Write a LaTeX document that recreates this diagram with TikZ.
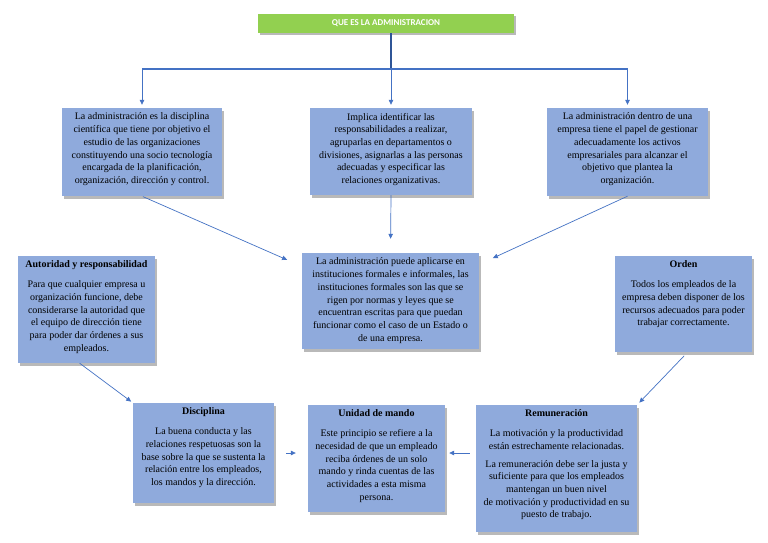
\documentclass[tikz,border=0pt]{standalone}
\usepackage{fontspec}
\setmainfont{Liberation Serif}
\newfontfamily\titlefont{Carlito}
\usetikzlibrary{arrows.meta,shadows,calc}
\definecolor{boxblue}{RGB}{143,170,220}
\definecolor{lineblue}{RGB}{68,114,196}
\definecolor{darkblue}{RGB}{47,85,151}
\definecolor{titlegreen}{RGB}{146,208,80}
\begin{document}
\begin{tikzpicture}[x=1pt,y=-1pt,
  card/.style={fill=boxblue, draw=none, inner sep=0pt,
    drop shadow={shadow xshift=1.5pt,shadow yshift=-2.5pt,fill=black!50,opacity=0.55}},
  txt/.style={anchor=north, inner sep=0pt, align=center,
    font=\fontsize{10}{12.7}\selectfont, text=black},
  conn/.style={draw=lineblue, line width=0.7pt, -{Triangle[length=5pt,width=4.5pt]}},
  ]
\useasboundingbox (0,0) rectangle (768,543);
\fill[white] (0,0) rectangle (768,543);

% title
\node[fill=titlegreen, minimum width=256pt, minimum height=19pt, inner sep=0pt,
  drop shadow={shadow xshift=1.5pt,shadow yshift=-2.5pt,fill=black!50,opacity=0.55},
  font=\titlefont\fontsize{9}{10}\selectfont\bfseries, text=white] (title) at (386,23.5) {QUE ES LA ADMINISTRACION};

% boxes
\node[card, minimum width=160pt, minimum height=88pt] (b1) at (142,152) {};
\node[card, minimum width=162pt, minimum height=87pt] (b2) at (391,151.5) {};
\node[card, minimum width=161pt, minimum height=88pt] (b3) at (627.5,152) {};
\node[card, minimum width=177pt, minimum height=96pt] (c) at (390.5,301) {};
\node[card, minimum width=137pt, minimum height=107pt] (a) at (86.5,309.5) {};
\node[card, minimum width=137pt, minimum height=96pt] (o) at (683.5,304) {};
\node[card, minimum width=141pt, minimum height=100pt] (d) at (203.5,453) {};
\node[card, minimum width=137pt, minimum height=107pt] (u) at (376.5,458.5) {};
\node[card, minimum width=161pt, minimum height=127pt] (r) at (556.5,468.5) {};

% texts
\node[txt] (b1t) at ($(b1.north)+(0,5)$) {La administración es la disciplina\\
científica que tiene por objetivo el\\
estudio de las organizaciones\\
constituyendo una socio tecnología\\
encargada de la planificación,\\
organización, dirección y control.};
\node[txt] (b2t) at ($(b2.north)+(0,5)$) {Implica identificar las\\
responsabilidades a realizar,\\
agruparlas en departamentos o\\
divisiones, asignarlas a las personas\\
adecuadas y especificar las\\
relaciones organizativas.};
\node[txt] (b3t) at ($(b3.north)+(0,5)$) {La administración dentro de una\\
empresa tiene el papel de gestionar\\
adecuadamente los activos\\
empresariales para alcanzar el\\
objetivo que plantea la\\
organización.};
\node[txt] (ct) at ($(c.north)+(0,5)$) {La administración puede aplicarse en\\
instituciones formales e informales, las\\
instituciones formales son las que se\\
rigen por normas y leyes que se\\
encuentran escritas para que puedan\\
funcionar como el caso de un Estado o\\
de una empresa.};
\node[txt] (at) at ($(a.north)+(0,5)$) {\textbf{Autoridad y responsabilidad}\\[7pt]
Para que cualquier empresa u\\
organización funcione, debe\\
considerarse la autoridad que\\
el equipo de dirección tiene\\
para poder dar órdenes a sus\\
empleados.};
\node[txt] (ot) at ($(o.north)+(0,5)$) {\textbf{Orden}\\[7pt]
Todos los empleados de la\\
empresa deben disponer de los\\
recursos adecuados para poder\\
trabajar correctamente.};
\node[txt] (dt) at ($(d.north)+(0,5)$) {\textbf{Disciplina}\\[7pt]
La buena conducta y las\\
relaciones respetuosas son la\\
base sobre la que se sustenta la\\
relación entre los empleados,\\
los mandos y la dirección.};
\node[txt] (ut) at ($(u.north)+(0,5)$) {\textbf{Unidad de mando}\\[7pt]
Este principio se refiere a la\\
necesidad de que un empleado\\
reciba órdenes de un solo\\
mando y rinda cuentas de las\\
actividades a esta misma\\
persona.};
\node[txt] (rt) at ($(r.north)+(0,5)$) {\textbf{Remuneración}\\[7pt]
La motivación y la productividad\\
están estrechamente relacionadas.\\[5pt]
La remuneración debe ser la justa y\\
suficiente para que los empleados\\
mantengan un buen nivel\\
de motivación y productividad en su\\
puesto de trabajo.};

% top connectors
\coordinate (hub) at (391,69);
\draw[draw=darkblue, line width=1.6pt] (title.south -| hub) -- (hub);
\draw[draw=lineblue, line width=1.3pt] (b1.north |- hub) -- (b3.north |- hub);
\draw[conn, shorten >=3pt] (b1.north |- hub) -- (b1.north);
\draw[conn, shorten >=3pt] (hub) -- (b2.north);
\draw[conn, shorten >=3pt] (b3.north |- hub) -- (b3.north);

% other connectors
\draw[conn, shorten <=1pt, shorten >=16pt] (b1.south) -- ($(c.north west)!0.14!(c.south west)$);
\draw[conn, shorten >=14pt] (b2.south) -- (c.north);
\draw[conn, shorten >=15pt] (b3.south) -- ($(c.north east)!0.12!(c.south east)$);
\draw[conn, shorten >=2pt] ($(a.south west)!0.45!(a.south east)$) -- (d.north west);
\draw[conn, shorten <=5pt, shorten >=3pt] ($(o.south west)!0.53!(o.south east)$) -- (r.north east);
\draw[conn, shorten <=12pt, shorten >=12pt] (d.east) -- (u.west |- d.east);
\draw[conn, shorten <=6pt, shorten >=4pt] (r.west |- d.east) -- (u.east |- d.east);
\end{tikzpicture}
\end{document}
